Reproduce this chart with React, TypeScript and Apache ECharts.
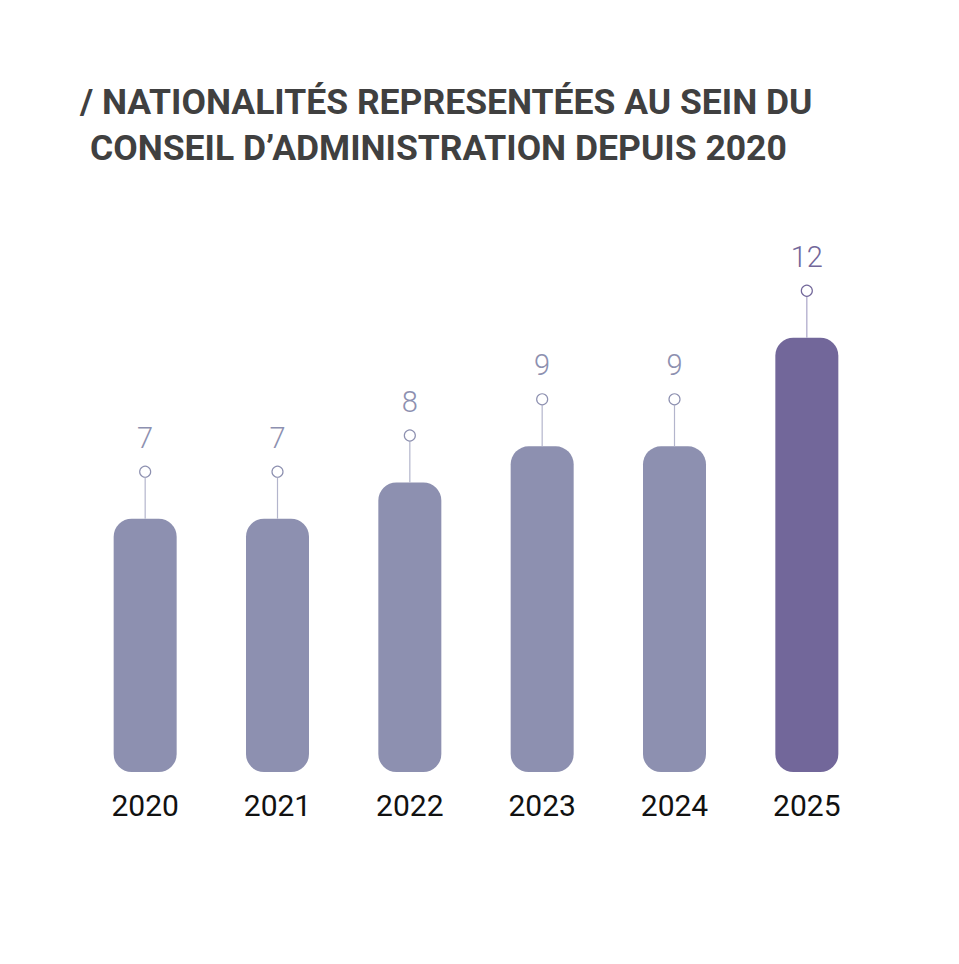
import React, { useEffect, useRef } from "react"
import * as echarts from "echarts"

const years = ["2020", "2021", "2022", "2023", "2024", "2025"]
const nationalities = [7, 7, 8, 9, 9, 12]
const highlightIndex = 5

const TITLE_LINE_1 = "/ NATIONALITÉS REPRESENTÉES AU SEIN DU"
const TITLE_LINE_2 = "CONSEIL D’ADMINISTRATION DEPUIS 2020"

const BAR_COLOR = "#8d90b0"
const BAR_HIGHLIGHT = "#72679a"
const STEM_COLOR = "#b3b5cc"
const STEM_HIGHLIGHT = "#aaa5c7"

const titleStyle = {
  fontFamily: "Roboto",
  fontWeight: "bold",
  fontSize: 35.5,
  color: "#404040",
}

export default function App() {
  const ref = useRef<HTMLDivElement>(null)

  useEffect(() => {
    if (!ref.current) return
    const chart = echarts.init(ref.current, undefined, { renderer: "svg" })

    chart.setOption({
      animation: false,
      backgroundColor: "#ffffff",
      title: [
        { text: TITLE_LINE_1, left: 80, top: 84, padding: 0, textStyle: titleStyle },
        { text: TITLE_LINE_2, left: 90, top: 130, padding: 0, textStyle: titleStyle },
      ],
      grid: { left: 79, right: 86, top: 193, bottom: 192, containLabel: false },
      xAxis: {
        type: "category",
        data: years,
        axisLine: { show: false },
        axisTick: { show: false },
        axisLabel: {
          margin: 18,
          fontFamily: "Roboto",
          fontSize: 30,
          color: "#111111",
        },
      },
      yAxis: {
        type: "value",
        min: 0,
        max: 16,
        show: false,
        splitLine: { show: false },
      },
      series: [
        {
          type: "bar",
          barWidth: 63,
          data: nationalities.map((v, i) => ({
            value: v,
            itemStyle: {
              color: i === highlightIndex ? BAR_HIGHLIGHT : BAR_COLOR,
              borderRadius: 18,
            },
          })),
        },
        {
          // stem, marker circle and value label above each bar
          type: "custom",
          data: nationalities.map((v, i) => [i, v]),
          clip: false,
          z: 5,
          renderItem: (params: any, api: any) => {
            const idx = api.value(0)
            const val = api.value(1)
            const [x, y] = api.coord([idx, val])
            const hi = idx === highlightIndex
            const main = hi ? BAR_HIGHLIGHT : BAR_COLOR
            return {
              type: "group",
              children: [
                {
                  type: "line",
                  shape: { x1: x, y1: y, x2: x, y2: y - 41 },
                  style: { stroke: hi ? STEM_HIGHLIGHT : STEM_COLOR, lineWidth: 1.2 },
                },
                {
                  type: "circle",
                  shape: { cx: x, cy: y - 47, r: 5.5 },
                  style: { fill: "#ffffff", stroke: main, lineWidth: 1.2 },
                },
                {
                  type: "text",
                  x,
                  y: y - 81,
                  style: {
                    text: String(val),
                    fill: main,
                    fontFamily: "Roboto",
                    fontWeight: 300,
                    fontSize: 29,
                    align: "center",
                    verticalAlign: "middle",
                  },
                },
              ],
            }
          },
        },
      ],
    })

    return () => chart.dispose()
  }, [])

  return (
    <div
      ref={ref}
      style={{ position: "absolute", left: 0, top: 0, width: 959, height: 964 }}
    />
  )
}
